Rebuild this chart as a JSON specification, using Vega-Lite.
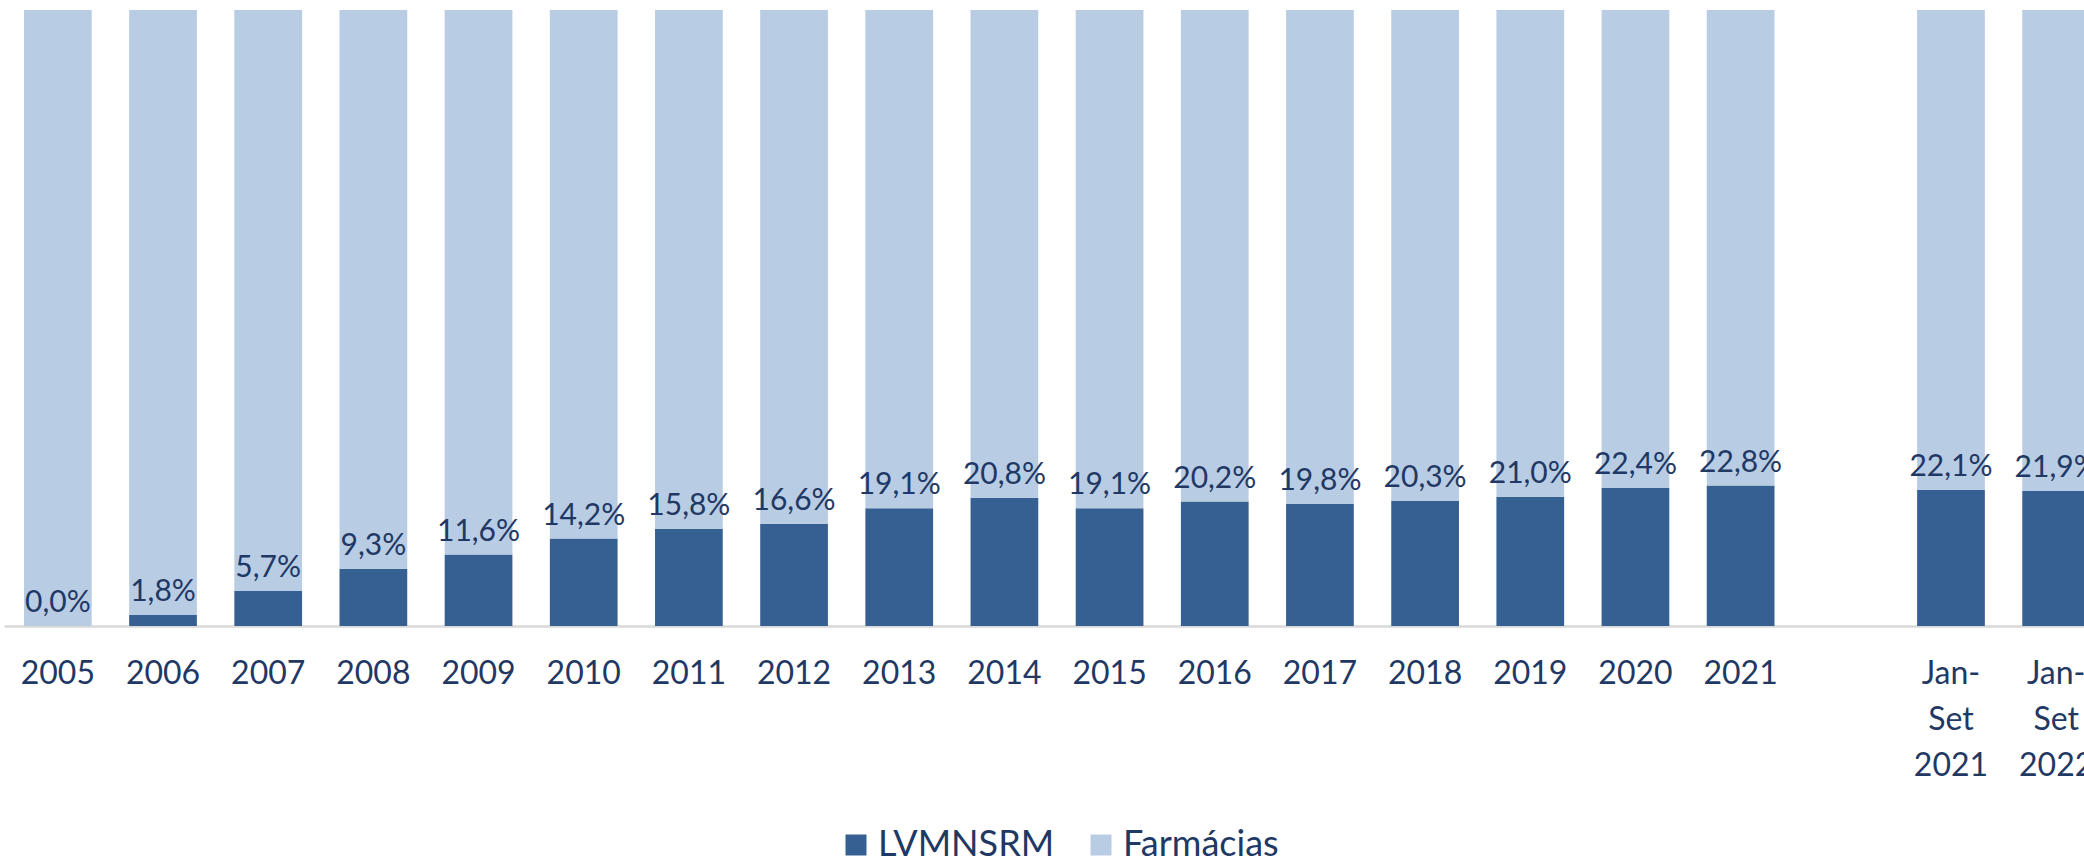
{
  "$schema": "https://vega.github.io/schema/vega-lite/v6.json",
  "autosize": {"type": "none"},
  "padding": {"left": 4, "top": 10, "right": 0, "bottom": 237},
  "width": 2080,
  "height": 616,
  "background": "white",
  "config": {
    "view": {"stroke": null},
    "locale": {"number": {"decimal": ",", "thousands": ".", "grouping": [3], "currency": ["€", ""]}},
    "font": "Lato"
  },
  "data": {
    "values": [
      {"periodo": "2005", "serie": "LVMNSRM", "valor": 0.000},
      {"periodo": "2005", "serie": "Farmácias", "valor": 1.000},
      {"periodo": "2006", "serie": "LVMNSRM", "valor": 0.018},
      {"periodo": "2006", "serie": "Farmácias", "valor": 0.982},
      {"periodo": "2007", "serie": "LVMNSRM", "valor": 0.057},
      {"periodo": "2007", "serie": "Farmácias", "valor": 0.943},
      {"periodo": "2008", "serie": "LVMNSRM", "valor": 0.093},
      {"periodo": "2008", "serie": "Farmácias", "valor": 0.907},
      {"periodo": "2009", "serie": "LVMNSRM", "valor": 0.116},
      {"periodo": "2009", "serie": "Farmácias", "valor": 0.884},
      {"periodo": "2010", "serie": "LVMNSRM", "valor": 0.142},
      {"periodo": "2010", "serie": "Farmácias", "valor": 0.858},
      {"periodo": "2011", "serie": "LVMNSRM", "valor": 0.158},
      {"periodo": "2011", "serie": "Farmácias", "valor": 0.842},
      {"periodo": "2012", "serie": "LVMNSRM", "valor": 0.166},
      {"periodo": "2012", "serie": "Farmácias", "valor": 0.834},
      {"periodo": "2013", "serie": "LVMNSRM", "valor": 0.191},
      {"periodo": "2013", "serie": "Farmácias", "valor": 0.809},
      {"periodo": "2014", "serie": "LVMNSRM", "valor": 0.208},
      {"periodo": "2014", "serie": "Farmácias", "valor": 0.792},
      {"periodo": "2015", "serie": "LVMNSRM", "valor": 0.191},
      {"periodo": "2015", "serie": "Farmácias", "valor": 0.809},
      {"periodo": "2016", "serie": "LVMNSRM", "valor": 0.202},
      {"periodo": "2016", "serie": "Farmácias", "valor": 0.798},
      {"periodo": "2017", "serie": "LVMNSRM", "valor": 0.198},
      {"periodo": "2017", "serie": "Farmácias", "valor": 0.802},
      {"periodo": "2018", "serie": "LVMNSRM", "valor": 0.203},
      {"periodo": "2018", "serie": "Farmácias", "valor": 0.797},
      {"periodo": "2019", "serie": "LVMNSRM", "valor": 0.210},
      {"periodo": "2019", "serie": "Farmácias", "valor": 0.790},
      {"periodo": "2020", "serie": "LVMNSRM", "valor": 0.224},
      {"periodo": "2020", "serie": "Farmácias", "valor": 0.776},
      {"periodo": "2021", "serie": "LVMNSRM", "valor": 0.228},
      {"periodo": "2021", "serie": "Farmácias", "valor": 0.772},
      {"periodo": "Jan-Set 2021", "serie": "LVMNSRM", "valor": 0.221},
      {"periodo": "Jan-Set 2021", "serie": "Farmácias", "valor": 0.779},
      {"periodo": "Jan-Set 2022", "serie": "LVMNSRM", "valor": 0.219},
      {"periodo": "Jan-Set 2022", "serie": "Farmácias", "valor": 0.781}
    ]
  },
  "encoding": {
    "x": {
      "field": "periodo",
      "type": "nominal",
      "scale": {
        "domain": ["2005","2006","2007","2008","2009","2010","2011","2012","2013","2014","2015","2016","2017","2018","2019","2020","2021"," ","Jan-Set 2021","Jan-Set 2022"],
        "range": [0, 2106],
        "paddingInner": 0.356,
        "paddingOuter": 0.19
      },
      "axis": {
        "title": null,
        "labelAngle": 0,
        "ticks": false,
        "domainColor": "#D9D9D9",
        "domainWidth": 2.5,
        "labelFont": "Lato",
        "labelFontSize": 32,
        "labelColor": "#1F3864",
        "labelPadding": 32,
        "labelBaseline": "top",
        "labelLineHeight": 46,
        "labelExpr": "split(replace(datum.label, '-', '- '), ' ')"
      }
    }
  },
  "layer": [
    {
      "mark": {"type": "bar"},
      "encoding": {
        "y": {"field": "valor", "type": "quantitative", "stack": "zero", "scale": {"domain": [0, 1]}, "axis": null},
        "color": {
          "field": "serie",
          "type": "nominal",
          "scale": {"domain": ["LVMNSRM", "Farmácias"], "range": ["#366092", "#B8CCE4"]},
          "legend": {
            "title": null,
            "orient": "none",
            "direction": "horizontal",
            "legendX": 834,
            "legendY": 817,
            "padding": 0,
            "symbolType": "square",
            "symbolSize": 441,
            "symbolStrokeWidth": 0,
            "labelFont": "Lato",
            "labelFontSize": 36,
            "labelColor": "#1F3864",
            "labelOffset": 4,
            "labelLimit": 0,
            "columnPadding": 28
          }
        },
        "order": {"field": "serie", "sort": "descending"}
      }
    },
    {
      "transform": [{"filter": "datum.serie == 'LVMNSRM'"}],
      "mark": {"type": "text", "baseline": "alphabetic", "dy": -14, "font": "Lato", "fontSize": 30, "color": "#1F3864"},
      "encoding": {
        "y": {"field": "valor", "type": "quantitative", "scale": {"domain": [0, 1]}, "axis": null},
        "text": {"field": "valor", "type": "quantitative", "format": ".1%"}
      }
    }
  ]
}
